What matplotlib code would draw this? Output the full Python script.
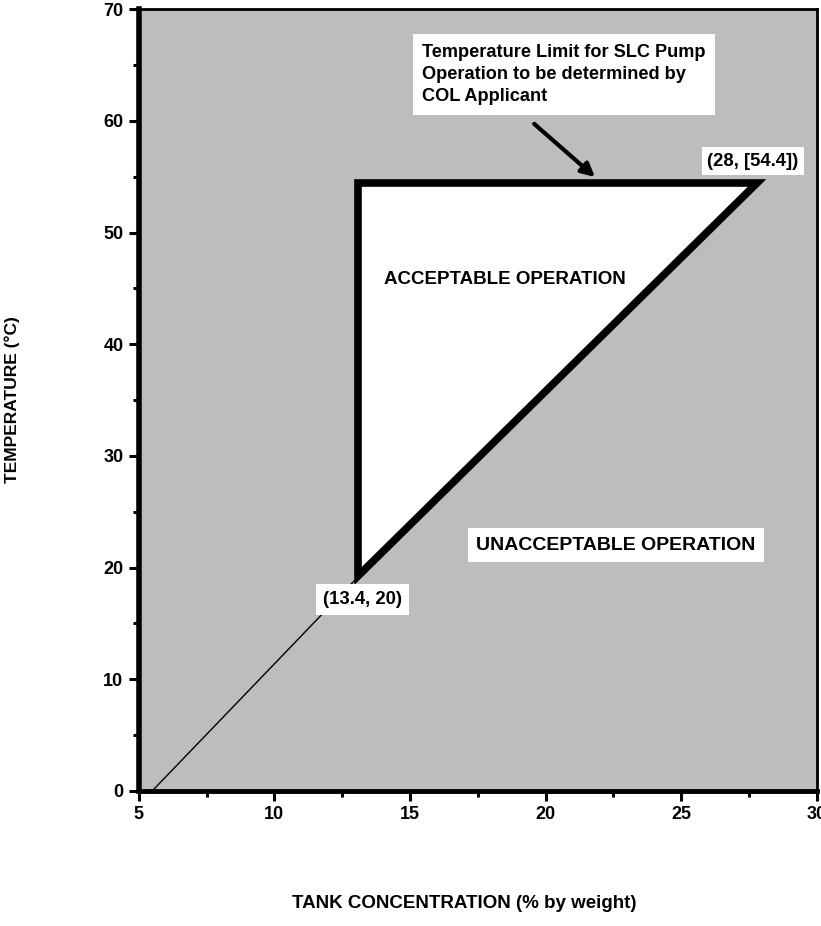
import matplotlib
matplotlib.use('Agg')
import matplotlib.pyplot as plt
from matplotlib.ticker import MultipleLocator

plt.rcParams['font.family'] = ['Liberation Sans', 'DejaVu Sans']
plt.rcParams['font.weight'] = 'bold'

# region of acceptable operation (white triangle)
region_conc = [13.1, 13.1, 27.8]
region_temp = [19.2, 54.4, 54.4]
# extension of the saturation line down to 0 degC
ext_conc = [5.5, 13.1]
ext_temp = [0.0, 19.2]

# arrow for the temperature limit note
arrow_from = (19.5, 59.9)
arrow_to = (21.9, 54.8)

fig = plt.figure(figsize=(8.21, 9.26), dpi=100)
ax = fig.add_axes([0.169, 0.146, 0.826, 0.844])

ax.set_facecolor('#bdbdbd')
ax.fill(region_conc, region_temp, facecolor='white', edgecolor='black', lw=5.5,
        joinstyle='miter', zorder=3)
ax.plot(ext_conc, ext_temp, color='black', lw=1.0, zorder=2)

ax.set_xlim(5, 30)
ax.set_ylim(0, 70)
ax.xaxis.set_major_locator(MultipleLocator(5))
ax.xaxis.set_minor_locator(MultipleLocator(2.5))
ax.yaxis.set_major_locator(MultipleLocator(10))
ax.yaxis.set_minor_locator(MultipleLocator(5))
ax.tick_params(which='major', direction='out', length=7, width=2.2, labelsize=13, pad=4)
ax.tick_params(which='minor', direction='out', length=4, width=2.2)
for lab in ax.get_xticklabels() + ax.get_yticklabels():
    lab.set_fontweight('bold')

ax.spines['left'].set_linewidth(4)
ax.spines['bottom'].set_linewidth(3.5)
ax.spines['top'].set_linewidth(2)
ax.spines['right'].set_linewidth(2)

ax.set_xlabel('TANK CONCENTRATION (% by weight)', fontsize=13.5, fontweight='bold')
ax.set_ylabel('TEMPERATURE (°C)', fontsize=12.5, fontweight='bold')
ax.xaxis.set_label_coords(0.48, -0.133)
ax.yaxis.set_label_coords(-0.175, 0.5)

ax.text(15.45, 66.9, 'Temperature Limit for SLC Pump\nOperation to be determined by\nCOL Applicant',
        fontsize=13.1, fontweight='bold', ha='left', va='top', linespacing=1.4, zorder=4,
        bbox=dict(facecolor='white', edgecolor='none', pad=7))
ax.text(27.64, 56.4, '(28, [54.4])', fontsize=13.2, fontweight='bold', ha='center', va='center',
        bbox=dict(facecolor='white', edgecolor='none', pad=4), zorder=4)
ax.text(18.5, 45.8, 'ACCEPTABLE OPERATION', fontsize=13.5, fontweight='bold', ha='center', va='center',
        zorder=4)
ax.text(22.6, 22.0, 'UNACCEPTABLE OPERATION', fontsize=14, fontweight='bold', ha='center', va='center',
        bbox=dict(facecolor='white', edgecolor='none', pad=6), zorder=4)
ax.text(13.25, 17.1, '(13.4, 20)', fontsize=13.3, fontweight='bold', ha='center', va='center',
        bbox=dict(facecolor='white', edgecolor='none', pad=5), zorder=4)

ax.annotate('', xy=arrow_to, xytext=arrow_from, zorder=5,
            arrowprops=dict(arrowstyle='-|>,head_length=0.8,head_width=0.4', color='black', lw=3))

fig.savefig('out.png', dpi=100)
